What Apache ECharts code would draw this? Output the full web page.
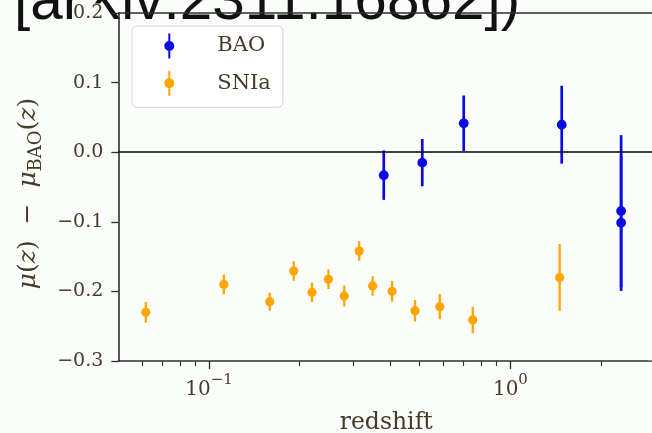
<!DOCTYPE html>
<html><head><meta charset="utf-8">
<script src="https://cdn.jsdelivr.net/npm/echarts@6/dist/echarts.min.js"></script>
<style>html,body{margin:0;padding:0;background:#fbfdfb;overflow:hidden}#c{width:652px;height:433px}</style>
</head><body><div id="c"></div>
<script>
// ---- data ----
const baoZ     = [0.38, 0.51, 0.70, 1.48, 2.33, 2.33];
const baoDelta = [-0.033, -0.015, 0.0415, 0.0395, -0.0845, -0.1013];
const baoErr   = [0.0355, 0.034, 0.040, 0.056, 0.109, 0.098];
const snZ      = [0.0617, 0.112, 0.159, 0.191, 0.2196, 0.249, 0.281, 0.315, 0.349, 0.405, 0.4826, 0.583, 0.750, 1.457];
const snDelta  = [-0.230, -0.190, -0.2148, -0.1707, -0.2013, -0.1826, -0.2066, -0.142, -0.1922, -0.1999, -0.2277, -0.222, -0.241, -0.180];
const snErr    = [0.0147, 0.014, 0.013, 0.014, 0.014, 0.014, 0.015, 0.014, 0.014, 0.015, 0.0155, 0.018, 0.019, 0.048];
const xMajorTicks = [0.1, 1];
const xMajorLabels = ['−1', '0'];
const xMinorTicks = [0.06, 0.07, 0.08, 0.09, 0.2, 0.3, 0.4, 0.5, 0.6, 0.7, 0.8, 0.9, 2, 3];
const titleText = '[arXiv:2311.16862])';
const seriesNames = ['BAO', 'SNIa'];

// ---- chart ----
const SERIF = 'DejaVu Serif';
const BG = '#fbfdfb';
const TXT = '#463b27';
const AX = '#2e2e2e';
const blue = '#0a0ae6', orange = '#ffa500';
const icon = 'path://M4,0h2v7.6h-2z M4,17.4h2v7.6h-2z M0,12.5a5,5 0 1,1 10,0a5,5 0 1,1 -10,0z';
const X_MIN = 0.05, X_MAX = 3;

function errRender(color, lw, r) {
  return function (params, api) {
    const x = api.value(0), y = api.value(1), e = api.value(2);
    const hi = api.coord([x, y + e]), lo = api.coord([x, y - e]), p = api.coord([x, y]);
    return { type: 'group', children: [
      { type: 'line', shape: { x1: hi[0], y1: hi[1], x2: lo[0], y2: lo[1] }, style: { stroke: color, lineWidth: lw } },
      { type: 'circle', shape: { cx: p[0], cy: p[1], r: r }, style: { fill: color } }
    ]};
  };
}
const baoData = baoZ.map((z, i) => [z, baoDelta[i], baoErr[i]]);
const snData = snZ.map((z, i) => [z, snDelta[i], snErr[i]]);

const chart = echarts.init(document.getElementById('c'), null, { renderer: 'canvas' });
chart.setOption({
  backgroundColor: BG,
  animation: false,
  grid: { left: 118.3, top: 13, width: 535.9, height: 348, outerBoundsMode: 'none', containLabel: false, show: false },
  legend: {
    orient: 'vertical', left: 132, top: 26,
    padding: [7.5, 12, 11.5, 32.3], itemWidth: 10, itemHeight: 25, itemGap: 12.3,
    backgroundColor: 'rgba(255,255,255,0.85)', borderColor: '#d6d6d6', borderWidth: 1, borderRadius: 5,
    formatter: name => '{g| }{t|' + name + '}',
    textStyle: { fontFamily: SERIF, fontSize: 21, color: TXT,
      rich: { g: { width: 38, fontSize: 21 }, t: { fontFamily: SERIF, fontSize: 21, color: TXT } } },
    data: [{ name: seriesNames[0], icon: icon }, { name: seriesNames[1], icon: icon }]
  },
  xAxis: [{
    type: 'log', logBase: 10, min: X_MIN, max: X_MAX, gridIndex: 0, position: 'bottom',
    name: 'redshift', nameLocation: 'middle', nameGap: 50,
    nameTextStyle: { fontFamily: SERIF, fontSize: 23.5, color: TXT },
    axisLine: { show: true, onZero: false, lineStyle: { color: AX, width: 1.6 } },
    axisTick: { show: true, customValues: xMajorTicks, length: 8, lineStyle: { color: AX, width: 1.3 } },
    axisLabel: {
      customValues: xMajorTicks, margin: 12, color: TXT,
      formatter: v => '{b|10}{s|' + xMajorLabels[xMajorTicks.indexOf(v) >= 0 ? xMajorTicks.indexOf(v) : 0] + '}',
      rich: {
        b: { fontFamily: SERIF, fontSize: 20, color: TXT, lineHeight: 27, verticalAlign: 'bottom' },
        s: { fontFamily: SERIF, fontSize: 15, color: TXT, verticalAlign: 'top' }
      }
    },
    splitLine: { show: false }
  }, {
    type: 'log', logBase: 10, min: X_MIN, max: X_MAX, gridIndex: 0, position: 'bottom',
    axisLine: { show: false, onZero: false },
    axisTick: { show: true, customValues: xMinorTicks, length: 5, lineStyle: { color: AX, width: 1.1 } },
    axisLabel: { show: false },
    splitLine: { show: false }
  }, {
    type: 'log', logBase: 10, min: X_MIN, max: X_MAX, gridIndex: 0, position: 'top',
    axisLine: { show: true, onZero: false, lineStyle: { color: AX, width: 1.6 } },
    axisTick: { show: false }, axisLabel: { show: false }, splitLine: { show: false }
  }],
  yAxis: {
    type: 'value', min: -0.3, max: 0.2, interval: 0.1,
    name: '{i|μ}({i|z})  −  {i|μ}{sub|BAO}({i|z})', nameLocation: 'middle', nameGap: 73, nameRotate: 90,
    nameTextStyle: {
      fontFamily: SERIF, fontSize: 25, color: TXT, padding: [0, 13, 0, 0],
      rich: {
        i: { fontFamily: SERIF, fontStyle: 'italic', fontSize: 25, color: TXT, lineHeight: 34 },
        sub: { fontFamily: SERIF, fontSize: 18, color: TXT, verticalAlign: 'bottom' }
      }
    },
    axisLine: { show: true, onZero: false, lineStyle: { color: AX, width: 1.6 } },
    axisTick: { show: true, length: 7, lineStyle: { color: AX, width: 1.3 } },
    axisLabel: {
      margin: 15, fontFamily: SERIF, fontSize: 19, color: TXT, backgroundColor: BG,
      formatter: v => { const r = Math.round(v * 10) / 10; return (r < 0 ? '−' : '') + Math.abs(r).toFixed(1); }
    },
    splitLine: { show: false }
  },
  series: [{
    name: seriesNames[0], type: 'custom', xAxisIndex: 0, yAxisIndex: 0,
    itemStyle: { color: blue },
    renderItem: errRender(blue, 2.7, 4.9),
    encode: { x: 0, y: 1 },
    data: baoData,
    markLine: { silent: true, symbol: 'none', label: { show: false }, lineStyle: { color: '#000', width: 1.6, type: 'solid' }, data: [{ yAxis: 0 }] },
    z: 3
  }, {
    name: seriesNames[1], type: 'custom', xAxisIndex: 0, yAxisIndex: 0,
    itemStyle: { color: orange },
    renderItem: errRender(orange, 2.3, 4.6),
    encode: { x: 0, y: 1 },
    data: snData,
    z: 3
  }],
  graphic: [{
    type: 'text', x: 14, y: 3, z: -1, zlevel: 0,
    style: { text: titleText, fontFamily: 'Liberation Sans', fontSize: 58.5, fill: '#111', align: 'left', verticalAlign: 'middle' }
  }, {
    type: 'rect', z: 200, silent: true,
    shape: { x: 648.5, y: 14.2, width: 4, height: 136.6 }, style: { fill: BG }
  }, {
    type: 'rect', z: 200, silent: true,
    shape: { x: 648.5, y: 153.8, width: 4, height: 206.4 }, style: { fill: BG }
  }]
});
</script>
</body></html>
